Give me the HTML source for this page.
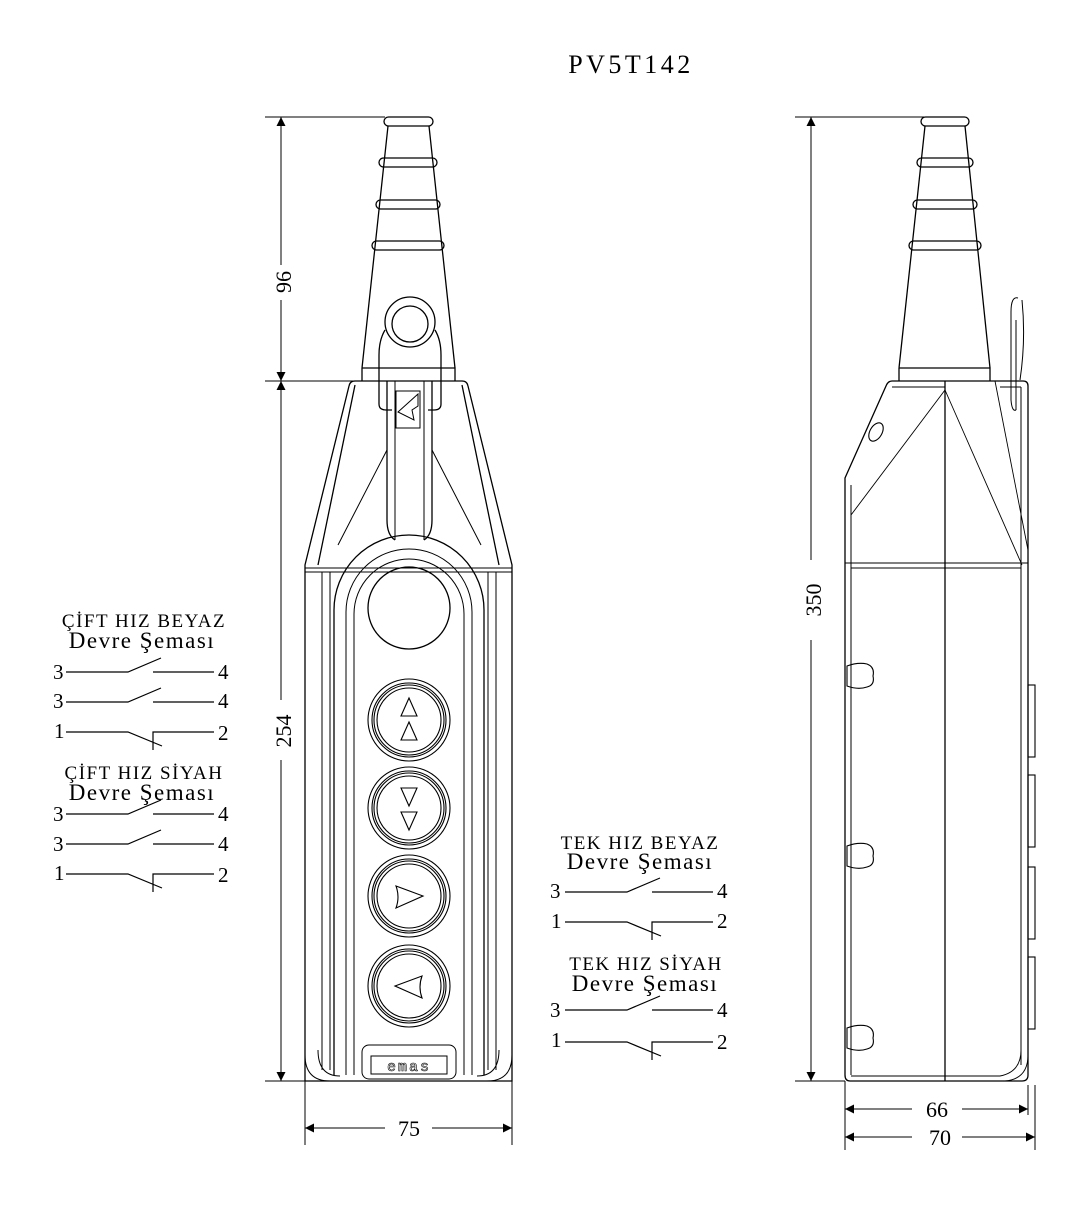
<!DOCTYPE html>
<html><head><meta charset="utf-8"><style>html,body{margin:0;padding:0;background:#fff}svg{display:block}</style></head>
<body>
<svg width="1090" height="1207" viewBox="0 0 1090 1207" xmlns="http://www.w3.org/2000/svg" font-family="Liberation Serif, serif" fill="none" stroke="#000" stroke-width="1.3">
<defs>
<marker id="a" viewBox="0 0 10 10" refX="10" refY="5" markerWidth="22" markerHeight="9" markerUnits="userSpaceOnUse" orient="auto-start-reverse"><path d="M0 0L10 5L0 10z" fill="#000" stroke="none"/></marker>
<g id="no"><path d="M0 0H62L95 -14M87 0H148"/></g>
<g id="nc"><path d="M0 0H62L96 14M87 18V0H148"/></g>
</defs>
<text x="631" y="73" font-size="26" text-anchor="middle" fill="#000" stroke="none" letter-spacing="3.5">PV5T142</text>

<!-- FRONT dims -->
<path d="M265 117H385M265 381H360M265 1081H305" stroke-width="1"/>
<path d="M281 117V265M281 300V381" marker-start="url(#a)" marker-end="url(#a)" stroke-width="1"/>
<path d="M281 381V700M281 760V1081" marker-start="url(#a)" marker-end="url(#a)" stroke-width="1"/>
<text transform="translate(291,282) rotate(-90)" font-size="22" text-anchor="middle" fill="#000" stroke="none">96</text>
<text transform="translate(291,731) rotate(-90)" font-size="22" text-anchor="middle" fill="#000" stroke="none">254</text>
<path d="M305 1081V1145M512 1081V1145" stroke-width="1"/>
<path d="M305 1128H385M432 1128H512" marker-start="url(#a)" marker-end="url(#a)" stroke-width="1"/>
<text x="409" y="1136" font-size="22" text-anchor="middle" fill="#000" stroke="none">75</text>

<!-- FRONT gland -->
<rect x="384" y="117" width="49" height="9" rx="4.5"/>
<rect x="379" y="158" width="58" height="9" rx="4.5"/>
<rect x="376" y="200" width="64" height="9" rx="4.5"/>
<rect x="372" y="241" width="72" height="9" rx="4.5"/>
<path d="M388 126L362 368M429 126L455 368M362 368H455V381"/>
<path d="M362 368V381"/>
<!-- hanger -->
<circle cx="410" cy="322" r="25"/><circle cx="410" cy="324" r="18"/>
<path d="M385 330Q379 340 379 355V404Q379 410 386 410H392M435 330Q441 340 441 355V404Q441 410 434 410H428"/>
<!-- body -->
<path d="M355 381H462Q467 381 468 386L512 565V1081H305V565L349 386Q350 381 355 381Z"/>
<path d="M355 385L318 565M462 385L499 565"/>
<path d="M305 568H512M305 572H512" stroke-width="1"/>
<path d="M322 572V1070M330 572V1070M488 572V1070M496 572V1070" stroke-width="1"/>
<!-- tongue -->
<path d="M387 381V520Q387 535 395 540M432 381V520Q432 535 424 540" />
<path d="M395 381V540M424 381V540" stroke-width="1"/>
<rect x="396" y="391" width="24" height="37" stroke-width="1"/>
<path d="M418 394L398 412L414 420L412 410L418 406Z" stroke-width="1"/>
<path d="M387 450L338 545M432 450L481 545" stroke-width="1"/>
<!-- arch -->
<path d="M334 1075V610A75 75 0 0 1 484 610V1075"/>
<path d="M346 1075V612A63 63 0 0 1 472 612V1075" stroke-width="1"/>
<path d="M354 1075V614A55 55 0 0 1 464 614V1075" stroke-width="1"/>
<circle cx="409" cy="608" r="41"/>
<g stroke-width="1.1">
<g transform="translate(409,720)"><circle r="41"/><circle r="37"/><circle r="35"/><circle r="32"/><path d="M0 -22L-8 -4H8Z M0 2L-8 20H8Z"/></g>
<g transform="translate(409,808)"><circle r="41"/><circle r="37"/><circle r="35"/><circle r="32"/><path d="M0 -2L-8 -20H8Z M0 22L-8 4H8Z"/></g>
<g transform="translate(409,896)"><circle r="41"/><circle r="37"/><circle r="35"/><circle r="32"/><path d="M-13 -10L14 0L-13 12Q-9 1 -13 -10Z"/></g>
<g transform="translate(409,986)"><circle r="41"/><circle r="37"/><circle r="35"/><circle r="32"/><path d="M-14 0L13 -10Q9 1 13 12Z"/></g>
</g>
<path d="M305 1055Q305 1081 330 1081M512 1055Q512 1081 487 1081M318 1050Q318 1076 340 1076M499 1050Q499 1076 477 1076" stroke-width="1"/>
<rect x="362" y="1045" width="94" height="34" rx="7" stroke-width="1"/>
<rect x="371" y="1056" width="76" height="18" stroke-width="1"/>
<text x="409" y="1071" font-size="15" text-anchor="middle" font-family="Liberation Mono, monospace" stroke="#000" stroke-width="0.6" fill="none" letter-spacing="2">emas</text>

<!-- SIDE dims -->
<path d="M795 117H925M795 1081H845" stroke-width="1"/>
<path d="M811 117V560M811 640V1081" marker-start="url(#a)" marker-end="url(#a)" stroke-width="1"/>
<text transform="translate(821,600) rotate(-90)" font-size="22" text-anchor="middle" fill="#000" stroke="none">350</text>
<path d="M845 1081V1150M1028 1085V1115M1035 1085V1150" stroke-width="1"/>
<path d="M845 1109H912M962 1109H1028" marker-start="url(#a)" marker-end="url(#a)" stroke-width="1"/>
<path d="M845 1137H912M962 1137H1035" marker-start="url(#a)" marker-end="url(#a)" stroke-width="1"/>
<text x="937" y="1117" font-size="22" text-anchor="middle" fill="#000" stroke="none">66</text>
<text x="940" y="1145" font-size="22" text-anchor="middle" fill="#000" stroke="none">70</text>

<!-- SIDE gland -->
<rect x="921" y="117" width="48" height="9" rx="4.5"/>
<rect x="917" y="158" width="56" height="9" rx="4.5"/>
<rect x="913" y="200" width="64" height="9" rx="4.5"/>
<rect x="909" y="241" width="72" height="9" rx="4.5"/>
<path d="M925 126L899 368M965 126L990 368M899 368H990V381M899 368V381"/>
<!-- clip -->
<path d="M1011 400V312Q1011 296 1018 298M1016 410V320M1011 400Q1012 412 1016 410M1022 300Q1026 340 1020 380" stroke-width="1"/>
<!-- side body -->
<path d="M892 381H1023Q1028 381 1028 386V1075Q1028 1081 1022 1081H850Q845 1081 845 1075V478L886 386Q888 381 892 381Z"/>
<path d="M945 381V1081"/>
<path d="M892 387H945M1000 387H1021M851 568H1021M845 563H1028" stroke-width="1"/>
<path d="M851 485V1075M1021 387V1065" stroke-width="1"/>
<path d="M945 390L851 515M945 390L1022 565M995 381L1028 550" stroke-width="0.9"/>
<ellipse cx="876" cy="432" rx="6" ry="10" transform="rotate(30 876 432)" stroke-width="1.1"/>
<path d="M847 666Q858 662 867 664Q875 667 873 676Q875 685 867 687Q858 690 847 686Z M847 846Q858 842 867 844Q875 847 873 856Q875 865 867 867Q858 870 847 866Z M847 1028Q858 1024 867 1026Q875 1029 873 1038Q875 1047 867 1049Q858 1052 847 1048Z" stroke-width="1.1"/>
<rect x="1028" y="685" width="7" height="72" stroke-width="1.1"/>
<rect x="1028" y="775" width="7" height="72" stroke-width="1.1"/>
<rect x="1028" y="867" width="7" height="72" stroke-width="1.1"/>
<rect x="1028" y="957" width="7" height="72" stroke-width="1.1"/>
<path d="M1021 1050Q1021 1072 1000 1076H851M1028 1055Q1028 1079 1005 1081" stroke-width="0.9"/>

<!-- circuits -->
<g fill="#000" stroke="none" font-size="19" text-anchor="middle" letter-spacing="1.5">
<text x="144" y="627">ÇİFT HIZ BEYAZ</text>
<text x="142" y="648" font-size="23">Devre Şeması</text>
<text x="144" y="779">ÇİFT HIZ SİYAH</text>
<text x="142" y="800" font-size="23">Devre Şeması</text>
<text x="640" y="849">TEK HIZ BEYAZ</text>
<text x="640" y="869" font-size="23">Devre Şeması</text>
<text x="646" y="970">TEK HIZ SİYAH</text>
<text x="645" y="991" font-size="23">Devre Şeması</text>
</g>
<g fill="#000" stroke="none" font-size="21">
<text x="53" y="679">3</text><text x="218" y="679">4</text>
<text x="53" y="708">3</text><text x="218" y="708">4</text>
<text x="54" y="738">1</text><text x="218" y="740">2</text>
<text x="53" y="821">3</text><text x="218" y="821">4</text>
<text x="53" y="851">3</text><text x="218" y="851">4</text>
<text x="54" y="880">1</text><text x="218" y="882">2</text>
<text x="550" y="898">3</text><text x="717" y="898">4</text>
<text x="551" y="928">1</text><text x="717" y="928">2</text>
<text x="550" y="1017">3</text><text x="717" y="1017">4</text>
<text x="551" y="1047">1</text><text x="717" y="1049">2</text>
</g>
<g stroke-width="1.2">
<use href="#no" x="66" y="672"/>
<use href="#no" x="66" y="702"/>
<use href="#nc" x="66" y="732"/>
<use href="#no" x="66" y="814"/>
<use href="#no" x="66" y="844"/>
<use href="#nc" x="66" y="874"/>
<use href="#no" x="565" y="892"/>
<use href="#nc" x="565" y="922"/>
<use href="#no" x="565" y="1010"/>
<use href="#nc" x="565" y="1042"/>
</g>
</svg>
</body></html>
